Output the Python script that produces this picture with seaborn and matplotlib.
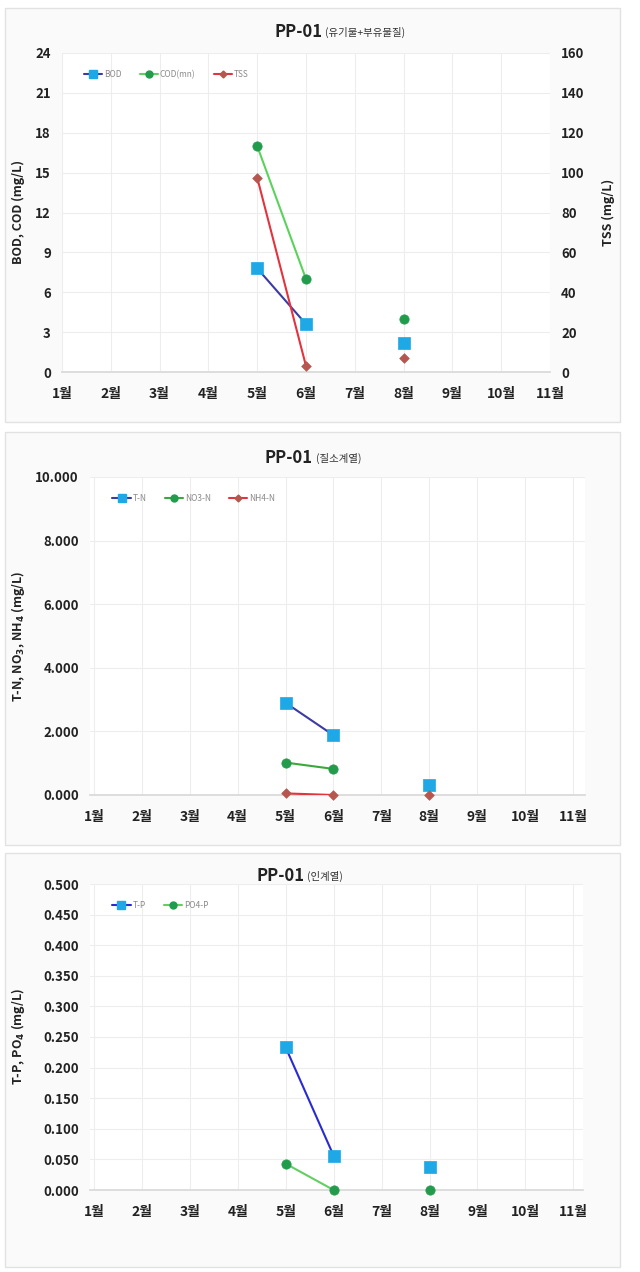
import numpy as np
import pandas as pd
import matplotlib
matplotlib.use("Agg")
import matplotlib.pyplot as plt
from matplotlib.patches import Rectangle
from matplotlib.lines import Line2D
from matplotlib.ticker import FormatStrFormatter
import seaborn as sns

sns.set_theme(style="white")
plt.rcParams['font.family'] = ['Noto Sans CJK KR', 'DejaVu Sans']
plt.rcParams['axes.unicode_minus'] = False

nan = np.nan
months = ['1월', '2월', '3월', '4월', '5월', '6월', '7월', '8월', '9월', '10월', '11월']

# Panel 1 (유기물+부유물질)
bod = [nan, nan, nan, nan, 7.8, 3.6, nan, 2.2, nan, nan, nan]
cod = [nan, nan, nan, nan, 17.0, 7.0, nan, 4.0, nan, nan, nan]
tss = [nan, nan, nan, nan, 97.5, 3.0, nan, 7.0, nan, nan, nan]

# Panel 2 (질소계열)
tn = [nan, nan, nan, nan, 2.90, 1.88, nan, 0.30, nan, nan, nan]
no3 = [nan, nan, nan, nan, 1.02, 0.82, nan, nan, nan, nan, nan]
nh4 = [nan, nan, nan, nan, 0.05, 0.0, nan, 0.0, nan, nan, nan]

# Panel 3 (인계열)
tp = [nan, nan, nan, nan, 0.233, 0.056, nan, 0.037, nan, nan, nan]
po4 = [nan, nan, nan, nan, 0.043, 0.0, nan, 0.0, nan, nan, nan]

W, H = 640, 1272
fig = plt.figure(figsize=(W / 100, H / 100), dpi=100)
fig.patch.set_facecolor('white')


def rect(left, top, right, bottom):
    return [left / W, 1 - bottom / H, (right - left) / W, (bottom - top) / H]


def panel_box(top, bottom):
    fig.patches.append(Rectangle((5 / W, 1 - bottom / H), 615 / W, (bottom - top) / H,
                                 transform=fig.transFigure, facecolor='#fafafa',
                                 edgecolor='#e2e2e2', lw=1.0, zorder=-5))


def series_df(vals):
    x = np.arange(1, len(vals) + 1)
    v = np.array(vals, dtype=float)
    seg = np.cumsum(np.isnan(v))
    df = pd.DataFrame({'m': x, 'v': v, 'seg': seg})
    return df.dropna()


def draw_series(ax, vals, line_c, mk_c, marker, ms, lw=1.5):
    df = series_df(vals)
    sns.lineplot(data=df, x='m', y='v', units='seg', estimator=None, color=line_c,
                 lw=lw, ax=ax, legend=False, zorder=3)
    sns.scatterplot(data=df, x='m', y='v', color=mk_c, marker=marker, s=ms,
                    edgecolor=mk_c, linewidth=0.5, ax=ax, legend=False, zorder=4,
                    clip_on=False)


def style_axes(ax, xlim):
    ax.set_facecolor('white')
    ax.set_xlim(*xlim)
    ax.set_xticks(range(1, 12))
    ax.set_xticklabels(months, fontsize=10, fontweight='bold', color='#222222')
    ax.grid(True, color='#ededed', lw=0.8)
    ax.set_axisbelow(True)
    for s in ['top', 'left', 'right']:
        ax.spines[s].set_visible(False)
    ax.spines['bottom'].set_color('#d9d9d9')
    ax.tick_params(axis='x', length=0, pad=11)
    ax.tick_params(axis='y', length=0, pad=8, labelsize=9.5)
    for t in ax.get_yticklabels():
        t.set_fontweight('bold')
        t.set_color('#222222')
    ax.set_xlabel('')
    ax.set_ylabel('')


def title(split_x, y, sub):
    fig.text(split_x / W, 1 - y / H, 'PP-01', ha='right', va='center',
             fontsize=12, fontweight='bold', color='#222222')
    fig.text((split_x + 3) / W, 1 - y / H, sub, ha='left', va='center',
             fontsize=7.5, color='#333333')


def legend(ax, handles, labels):
    ax.legend(handles, labels, loc='upper left', bbox_to_anchor=(0.03, 0.97), ncol=len(labels),
              frameon=False, fontsize=6, labelcolor='#8a8a8a', handlelength=2.2,
              columnspacing=2.2, handletextpad=0.2)


def h(line_c, mk_c, marker, ms):
    return Line2D([0], [0], color=line_c, lw=1.5, marker=marker, markersize=ms,
                  markerfacecolor=mk_c, markeredgecolor=mk_c)


# ---------- Panel 1 ----------
panel_box(8, 422)
ax1 = fig.add_axes(rect(62, 53, 550, 372))
draw_series(ax1, bod, '#3b3ba3', '#1ea8e6', 's', 65)
draw_series(ax1, cod, '#5bd35b', '#229c4c', 'o', 45)
ax1b = ax1.twinx()
draw_series(ax1b, tss, '#e4333d', '#b5574f', 'D', 24)
ax1.set_ylim(0, 24)
ax1.set_yticks(np.arange(0, 25, 3))
ax1b.set_ylim(0, 160)
ax1b.set_yticks(np.arange(0, 161, 20))
style_axes(ax1, (1, 11))
ax1b.grid(False)
for s in ['top', 'left', 'right', 'bottom']:
    ax1b.spines[s].set_visible(False)
ax1b.tick_params(axis='y', length=0, pad=8, labelsize=9.5)
for t in ax1b.get_yticklabels():
    t.set_fontweight('bold')
    t.set_color('#222222')
ax1b.set_ylabel('')
ax1b.set_xlim(1, 11)
legend(ax1b, [h('#3b3ba3', '#1ea8e6', 's', 6), h('#5bd35b', '#229c4c', 'o', 5),
              h('#e4333d', '#b5574f', 'D', 3.5)], ['BOD', 'COD(mn)', 'TSS'])
title(322, 32, '(유기물+부유물질)')
fig.text(18 / W, 1 - 212 / H, 'BOD, COD (mg/L)', rotation=90, ha='center', va='center',
         fontsize=9, fontweight='bold', color='#222222')
fig.text(608 / W, 1 - 212 / H, 'TSS (mg/L)', rotation=90, ha='center', va='center',
         fontsize=9, fontweight='bold', color='#222222')

# ---------- Panel 2 ----------
panel_box(432, 845)
ax2 = fig.add_axes(rect(90, 477, 585, 795))
draw_series(ax2, tn, '#3b3ba3', '#1ea8e6', 's', 65)
draw_series(ax2, no3, '#3aa83a', '#229c4c', 'o', 45)
draw_series(ax2, nh4, '#e4333d', '#b5574f', 'D', 24)
ax2.set_ylim(0, 10)
ax2.set_yticks(np.arange(0, 10.1, 2))
ax2.yaxis.set_major_formatter(FormatStrFormatter('%.3f'))
style_axes(ax2, (0.92, 11.25))
legend(ax2, [h('#3b3ba3', '#1ea8e6', 's', 6), h('#3aa83a', '#229c4c', 'o', 5),
             h('#e4333d', '#b5574f', 'D', 3.5)], ['T-N', 'NO3-N', 'NH4-N'])
title(313, 458, '(질소계열)')
fig.text(18 / W, 1 - 636 / H, r'T-N, NO$_\mathbf{3}$, NH$_\mathbf{4}$ (mg/L)', rotation=90,
         ha='center', va='center', fontsize=9, fontweight='bold', color='#222222')

# ---------- Panel 3 ----------
panel_box(853, 1267)
ax3 = fig.add_axes(rect(90, 884, 583, 1190))
draw_series(ax3, tp, '#2a2ad4', '#1ea8e6', 's', 65)
draw_series(ax3, po4, '#62cf62', '#229c4c', 'o', 45)
ax3.set_ylim(0, 0.5)
ax3.set_yticks(np.arange(0, 0.501, 0.05))
ax3.yaxis.set_major_formatter(FormatStrFormatter('%.3f'))
style_axes(ax3, (0.92, 11.2))
legend(ax3, [h('#2a2ad4', '#1ea8e6', 's', 6), h('#62cf62', '#229c4c', 'o', 5)], ['T-P', 'PO4-P'])
title(304, 876, '(인계열)')
fig.text(18 / W, 1 - 1037 / H, r'T-P, PO$_\mathbf{4}$ (mg/L)', rotation=90,
         ha='center', va='center', fontsize=9, fontweight='bold', color='#222222')

fig.savefig('out.png', dpi=100)
